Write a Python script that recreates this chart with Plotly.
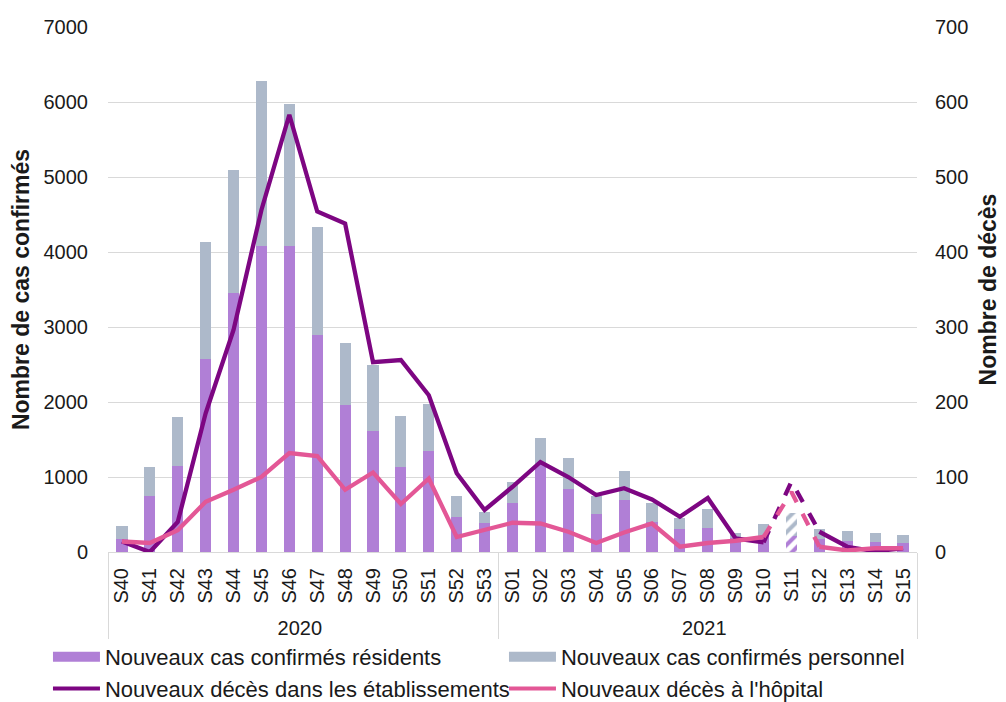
#?-------------------------------------------------------------------------------------------------------------------------------
#?  Import Libraries
#?-------------------------------------------------------------------------------------------------------------------------------
import plotly.graph_objects as go

#?-------------------------------------------------------------------------------------------------------------------------------
#?  Data
#?-------------------------------------------------------------------------------------------------------------------------------
weeks       = ["S40", "S41", "S42", "S43", "S44", "S45", "S46", "S47", "S48", "S49", "S50", "S51", "S52", "S53",
               "S01", "S02", "S03", "S04", "S05", "S06", "S07", "S08", "S09", "S10", "S11", "S12", "S13", "S14", "S15"]
years       = ["2020"] * 14 + ["2021"] * 15

cas_residents  = [170, 750, 1150, 2580, 3450, 4085, 4085, 2890, 1965, 1615, 1135, 1350, 462, 391,
                  658, 1180, 840, 510, 695, 398, 307, 324, 190, 210, 220, 169, 147, 133, 116]
cas_personnel  = [180, 390, 650, 1555, 1645, 2200, 1890, 1450, 825, 880, 680, 620, 280, 142,
                  271, 340, 410, 235, 385, 260, 148, 245, 60, 168, 300, 133, 137, 125, 106]
deces_etab     = [14, 0, 40, 185, 296, 456, 583, 454, 438, 253, 256, 209, 105, 56,
                  87, 120, 100, 76, 85, 70, 47, 72, 18, 13, 94, 27, 7, 1, 5]
deces_hopital  = [14, 12, 29, 67, 83, 100, 132, 128, 83, 106, 64, 98, 20, 30,
                  39, 38, 27, 12, 26, 38, 7, 12, 15, 20, 80, 7, 2, 5, 5]

incomplete_week = "S11"                                   # hatched bar + dashed segments around it

#?-------------------------------------------------------------------------------------------------------------------------------
#?  Styles
#?-------------------------------------------------------------------------------------------------------------------------------
c_res, c_pers   = "#B07FD6", "#ADB9CA"
c_etab, c_hop   = "#7D0682", "#E35796"
font_main       = "Liberation Sans, Arial, sans-serif"
k               = weeks.index(incomplete_week)
hatch           = ["/" if w == incomplete_week else "" for w in weeks]

x_all = [years, weeks]

fig = go.Figure()

# stacked bars (left axis)
for name, vals, col in [("Nouveaux cas confirmés résidents", cas_residents, c_res),
                        ("Nouveaux cas confirmés personnel", cas_personnel, c_pers)]:
    fig.add_trace(go.Bar(x=x_all, y=vals, name=name, showlegend=False,
                         marker=dict(color=col, line=dict(width=0),
                                     pattern=dict(shape=hatch, fillmode="replace", fgcolor=col,
                                                  bgcolor="white", size=9, solidity=0.45))))

# lines (right axis): solid / dashed around the incomplete week / solid
for name, vals, col in [("Nouveaux décès dans les établissements", deces_etab, c_etab),
                        ("Nouveaux décès à l'hôpital", deces_hopital, c_hop)]:
    for sl, dash in [(slice(0, k), "solid"), (slice(k - 1, k + 2), "dash"), (slice(k + 1, None), "solid")]:
        fig.add_trace(go.Scatter(x=[years[sl], weeks[sl]], y=vals[sl], mode="lines", yaxis="y2",
                                 line=dict(color=col, width=4.3, dash=dash), showlegend=False))

# legend entries (wide swatches as in the original)
for name, col in [("Nouveaux cas confirmés résidents", c_res), ("Nouveaux cas confirmés personnel", c_pers)]:
    fig.add_trace(go.Scatter(x=[None], y=[None], mode="lines", name=name, line=dict(color=col, width=10)))
for name, col in [("Nouveaux décès dans les établissements", c_etab), ("Nouveaux décès à l'hôpital", c_hop)]:
    fig.add_trace(go.Scatter(x=[None], y=[None], mode="lines", name=name, line=dict(color=col, width=4)))

#?-------------------------------------------------------------------------------------------------------------------------------
#?  Layout  (page body has an 8px offset, margins compensate)
#?-------------------------------------------------------------------------------------------------------------------------------
fig.update_layout(
    width=1006, height=702,
    margin=dict(l=100, r=97, t=19, b=158, autoexpand=False),
    paper_bgcolor="white", plot_bgcolor="white",
    font=dict(family=font_main, size=20, color="#1a1a1a"),
    barmode="stack", bargap=0.6,
    xaxis=dict(type="multicategory", tickangle=-90, showgrid=False, showline=True, linecolor="#d9d9d9",
               linewidth=1, showdividers=True, dividercolor="#d9d9d9", dividerwidth=1,
               tickfont=dict(size=20), ticklabelstandoff=7, automargin=False),
    yaxis=dict(range=[0, 7000], dtick=1000, showgrid=True, gridcolor="#d9d9d9", gridwidth=1,
               zeroline=False, showline=False, ticks="", ticklabelstandoff=19, automargin=False,
               title=dict(text="<b>Nombre de cas confirmés</b>", font=dict(size=23), standoff=8)),
    yaxis2=dict(range=[0, 700], dtick=100, overlaying="y", side="right", showgrid=False,
                zeroline=False, showline=False, ticks="", ticklabelstandoff=17, automargin=False,
                title=dict(text="<b>Nombre de décès</b>", font=dict(size=23), standoff=12)),
    legend=dict(orientation="h", x=-0.0742, xanchor="left", y=-0.16, yanchor="top",
                entrywidth=394, entrywidthmode="pixels", itemwidth=47, traceorder="normal",
                font=dict(size=22), tracegroupgap=0, bgcolor="rgba(0,0,0,0)"),
)

fig.write_html("out.html")
